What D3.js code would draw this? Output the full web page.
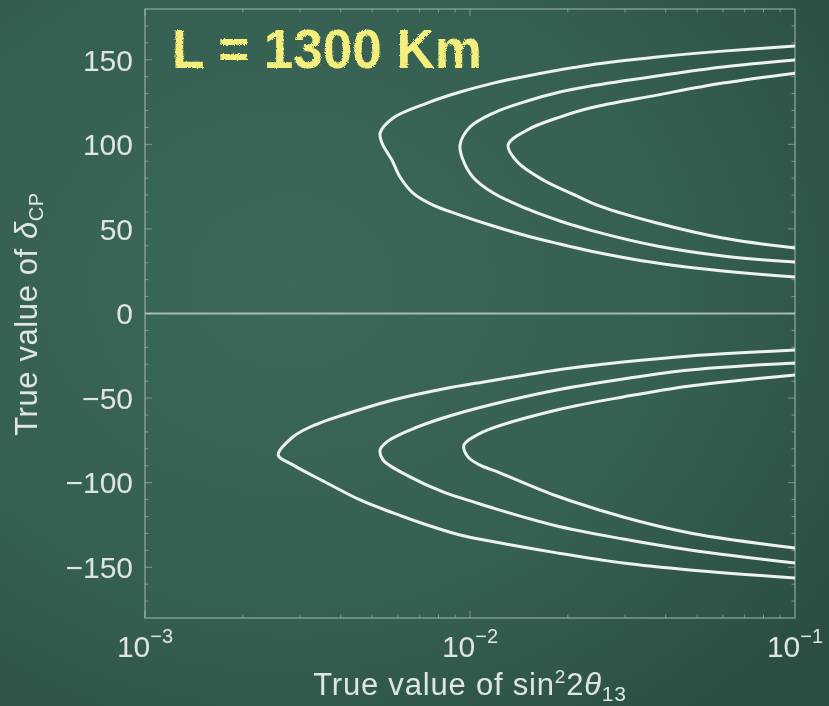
<!DOCTYPE html>
<html>
<head>
<meta charset="utf-8">
<script src="https://cdn.jsdelivr.net/npm/d3@7"></script>
<style>
  html, body { margin: 0; padding: 0; background: #35604f; }
  svg { display: block; }
  text { font-family: "Liberation Sans", Arial, sans-serif; }
</style>
</head>
<body>
<svg id="chart" width="829" height="706"></svg>
<script>
// Axis ticks
const sin2Ticks = [1e-3, 1e-2, 1e-1];
const sin2TickExp = ["\u22123", "\u22122", "\u22121"];
const deltaTicks = [-150, -100, -50, 0, 50, 100, 150];

// Contours for delta_CP > 0 : [sin^2 2theta13, delta_CP]
const upperOuter = [
  [0.1, 158.1], [0.0600, 155.1], [0.0376, 151.6], [0.0234, 146.9], [0.0150, 140.4],
  [0.0118, 136.2], [0.00932, 130.9], [0.00738, 124.4], [0.00580, 115.6],
  [0.00529, 106.7], [0.00536, 100.8], [0.00575, 90.7], [0.00609, 80.7], [0.00668, 71.2],
  [0.00770, 64.1], [0.00932, 58.2], [0.0118, 51.7], [0.0150, 45.8], [0.0189, 41.1],
  [0.0234, 37.0], [0.0376, 29.8], [0.0600, 25.1], [0.1, 21.6]
];
const upperMiddle = [
  [0.1, 149.8], [0.0600, 145.7], [0.0376, 140.4], [0.0234, 134.4], [0.0189, 130.9],
  [0.0150, 125.6], [0.0118, 118.5], [0.0100, 110.2], [0.00932, 99.6], [0.00952, 90.7],
  [0.0102, 80.7], [0.0118, 71.2], [0.0150, 61.8], [0.0189, 54.7], [0.0234, 49.3],
  [0.0376, 39.9], [0.0600, 34.0], [0.1, 30.4]
];
const upperInner = [
  [0.1, 142.1], [0.0600, 136.2], [0.0376, 129.1], [0.0234, 121.5], [0.0189, 116.1],
  [0.0150, 108.5], [0.0131, 99.6], [0.0140, 89.5], [0.0168, 78.9], [0.0213, 69.5],
  [0.0251, 63.5], [0.0376, 53.5], [0.0600, 44.6], [0.1, 38.7]
];

// Contours for delta_CP < 0
const lowerOuter = [
  [0.1, -21.6], [0.0475, -25.1], [0.0296, -28.7], [0.0185, -33.4], [0.0115, -39.9],
  [0.00826, -44.6], [0.00580, -51.1], [0.00407, -60.0], [0.00322, -67.1], [0.00285, -73.0],
  [0.00257, -83.6], [0.00285, -89.5], [0.00363, -100.2], [0.00459, -110.2], [0.00580, -117.9],
  [0.00738, -125.0], [0.00932, -130.9], [0.0115, -134.5], [0.0185, -141.5], [0.0296, -147.5],
  [0.0475, -151.6], [0.1, -156.3]
];
const lowerMiddle = [
  [0.1, -29.3], [0.0475, -33.4], [0.0296, -38.7], [0.0185, -45.2], [0.0115, -54.1],
  [0.00826, -61.8], [0.00654, -68.9], [0.00555, -75.9], [0.00529, -80.7], [0.00540, -86.6],
  [0.00654, -96.6], [0.00826, -105.5], [0.0105, -112.0], [0.0115, -114.4], [0.0185, -125.6],
  [0.0296, -133.3], [0.0475, -139.8], [0.1, -147.5]
];
const lowerInner = [
  [0.1, -36.3], [0.0475, -42.8], [0.0296, -49.3], [0.0185, -57.0], [0.0115, -68.3],
  [0.0105, -71.8], [0.00958, -77.7], [0.00986, -84.8], [0.0107, -89.5], [0.0124, -94.3],
  [0.0185, -107.9], [0.0296, -120.3], [0.0475, -129.7], [0.1, -138.6]
];

const contours = [upperOuter, upperMiddle, upperInner, lowerOuter, lowerMiddle, lowerInner];

const W = 829, H = 706;
const plot = { left: 145, right: 795, top: 9, bottom: 618 };

const svg = d3.select("#chart");
const defs = svg.append("defs");

// Chalkboard background
const bg = defs.append("radialGradient").attr("id", "board")
  .attr("cx", "35%").attr("cy", "40%").attr("r", "80%");
bg.append("stop").attr("offset", "0%").attr("stop-color", "#3c6959");
bg.append("stop").attr("offset", "60%").attr("stop-color", "#355f50");
bg.append("stop").attr("offset", "100%").attr("stop-color", "#2a4f42");

// Soft focus for chalk-like strokes
const soft = defs.append("filter").attr("id", "soft");
soft.append("feGaussianBlur").attr("stdDeviation", 0.5);

// Rough edges for the handwritten label
const chalk = defs.append("filter").attr("id", "chalk")
  .attr("x", "-5%").attr("y", "-20%").attr("width", "110%").attr("height", "140%");
chalk.append("feTurbulence").attr("type", "fractalNoise").attr("baseFrequency", 0.9)
  .attr("numOctaves", 2).attr("seed", 3).attr("result", "noise");
chalk.append("feDisplacementMap").attr("in", "SourceGraphic").attr("in2", "noise")
  .attr("scale", 3);

svg.append("rect").attr("width", W).attr("height", H).attr("fill", "url(#board)");

const x = d3.scaleLog().domain([1e-3, 1e-1]).range([plot.left, plot.right]);
const y = d3.scaleLinear().domain([-180, 180]).range([plot.bottom, plot.top]);

const g = svg.append("g").attr("filter", "url(#soft)");

const frameColor = "#b9cbc1";
const textColor = "#dfe5e0";

// Frame
g.append("rect")
  .attr("x", plot.left).attr("y", plot.top)
  .attr("width", plot.right - plot.left).attr("height", plot.bottom - plot.top)
  .attr("fill", "none").attr("stroke", frameColor).attr("stroke-opacity", 0.7)
  .attr("stroke-width", 1.2);

// Minor ticks (inside the frame)
const yMinor = d3.range(-170, 180, 10);
const xMinor = [];
[1e-3, 1e-2].forEach(dec => { for (let k = 1; k <= 9; k++) xMinor.push(dec * k); });
const tickG = g.append("g").attr("stroke", frameColor).attr("stroke-opacity", 0.55).attr("stroke-width", 1);
yMinor.forEach(v => {
  const len = v % 50 === 0 ? 7 : 3.5;
  tickG.append("line").attr("x1", plot.left).attr("x2", plot.left + len).attr("y1", y(v)).attr("y2", y(v));
  tickG.append("line").attr("x1", plot.right).attr("x2", plot.right - len).attr("y1", y(v)).attr("y2", y(v));
});
xMinor.forEach(v => {
  const len = sin2Ticks.includes(v) ? 7 : 3.5;
  tickG.append("line").attr("x1", x(v)).attr("x2", x(v)).attr("y1", plot.bottom).attr("y2", plot.bottom - len);
  tickG.append("line").attr("x1", x(v)).attr("x2", x(v)).attr("y1", plot.top).attr("y2", plot.top + len);
});

// Zero line
g.append("line")
  .attr("x1", plot.left).attr("x2", plot.right).attr("y1", y(0)).attr("y2", y(0))
  .attr("stroke", frameColor).attr("stroke-opacity", 0.85).attr("stroke-width", 2);

// Y tick labels
g.append("g").selectAll("text").data(deltaTicks).join("text")
  .attr("x", 133).attr("y", d => y(d)).attr("dy", "0.36em")
  .attr("text-anchor", "end").attr("font-size", 30).attr("fill", textColor)
  .text(d => d < 0 ? "\u2212" + Math.abs(d) : String(d));

// X tick labels: 10^n
const xl = g.append("g").selectAll("text").data(sin2Ticks).join("text")
  .attr("x", d => x(d)).attr("y", 657)
  .attr("text-anchor", "middle").attr("font-size", 30).attr("fill", textColor);
xl.append("tspan").text("10");
xl.append("tspan").attr("font-size", 20).attr("dy", -14).text((d, i) => sin2TickExp[i]);

// Axis titles
const xt = g.append("text").attr("x", 470).attr("y", 695)
  .attr("text-anchor", "middle").attr("font-size", 31).attr("letter-spacing", 0.8)
  .attr("fill", textColor);
xt.append("tspan").text("True value of sin");
xt.append("tspan").attr("font-size", 19).attr("dy", -12).text("2");
xt.append("tspan").attr("dy", 12).text("2");
xt.append("tspan").attr("font-style", "italic").text("\u03b8");
xt.append("tspan").attr("font-size", 21).attr("dy", 6).text("13");

const yt = g.append("text").attr("transform", "translate(37,314) rotate(-90)")
  .attr("text-anchor", "middle").attr("font-size", 31).attr("letter-spacing", 0.6)
  .attr("fill", textColor);
yt.append("tspan").text("True value of ");
yt.append("tspan").attr("font-style", "italic").text("\u03b4");
yt.append("tspan").attr("font-size", 20).attr("dy", 6).text("CP");

// Contour lines
const line = d3.line()
  .x(d => x(d[0])).y(d => y(d[1]))
  .curve(d3.curveCatmullRom.alpha(0.5));

const clip = defs.append("clipPath").attr("id", "plotclip");
clip.append("rect").attr("x", plot.left).attr("y", plot.top)
  .attr("width", plot.right - plot.left).attr("height", plot.bottom - plot.top);

g.append("g").attr("clip-path", "url(#plotclip)")
  .selectAll("path").data(contours).join("path")
  .attr("d", line)
  .attr("fill", "none").attr("stroke", "#eef2ec").attr("stroke-width", 3)
  .attr("stroke-linejoin", "round").attr("stroke-linecap", "round");

// Baseline label
svg.append("text")
  .attr("x", 172).attr("y", 68)
  .attr("font-family", "Lato, 'DejaVu Sans', sans-serif").attr("font-weight", 700)
  .attr("font-size", 56).attr("fill", "#f4ef7c")
  .attr("textLength", 310).attr("lengthAdjust", "spacingAndGlyphs")
  .attr("filter", "url(#chalk)")
  .text("L = 1300 Km");
</script>
</body>
</html>
